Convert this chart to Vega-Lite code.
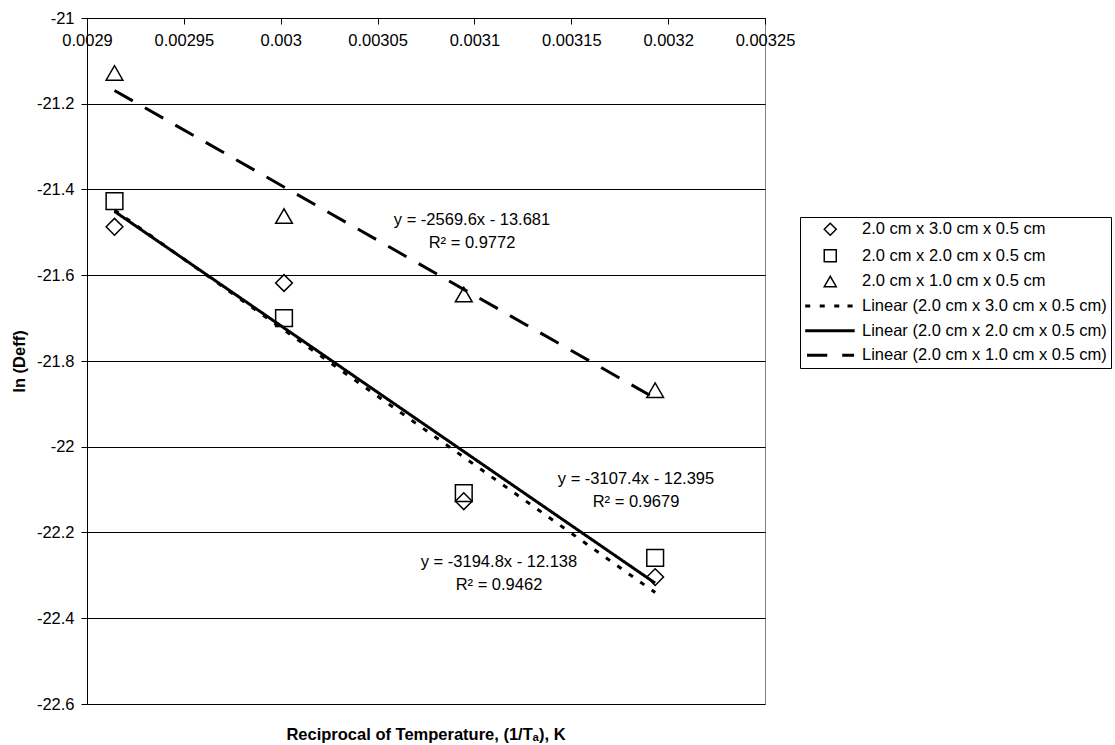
{
  "$schema": "https://vega.github.io/schema/vega-lite/v6.json",
  "width": 678,
  "height": 686,
  "autosize": "none",
  "padding": {"left": 87, "top": 18, "right": 350, "bottom": 41},
  "background": "white",
  "config": {
    "font": "Liberation Sans, Arial, sans-serif",
    "view": {"stroke": "#808080", "strokeWidth": 1}
  },
  "title": {
    "text": "Reciprocal of Temperature, (1/Tₐ), K",
    "orient": "bottom",
    "anchor": "middle",
    "frame": "group",
    "fontSize": 16.5,
    "fontWeight": "bold",
    "color": "black",
    "baseline": "alphabetic",
    "offset": 27
  },
  "datasets": {
    "pts": [
      {"series": "2.0 cm x 2.0 cm x 0.5 cm", "x": 0.0029142, "y": -21.427},
      {"series": "2.0 cm x 2.0 cm x 0.5 cm", "x": 0.0030017, "y": -21.70},
      {"series": "2.0 cm x 2.0 cm x 0.5 cm", "x": 0.0030945, "y": -22.108},
      {"series": "2.0 cm x 2.0 cm x 0.5 cm", "x": 0.0031933, "y": -22.259},
      {"series": "2.0 cm x 1.0 cm x 0.5 cm", "x": 0.0029142, "y": -21.128},
      {"series": "2.0 cm x 1.0 cm x 0.5 cm", "x": 0.0030017, "y": -21.462},
      {"series": "2.0 cm x 1.0 cm x 0.5 cm", "x": 0.0030945, "y": -21.645},
      {"series": "2.0 cm x 1.0 cm x 0.5 cm", "x": 0.0031933, "y": -21.868},
      {"series": "2.0 cm x 3.0 cm x 0.5 cm", "x": 0.0029142, "y": -21.487},
      {"series": "2.0 cm x 3.0 cm x 0.5 cm", "x": 0.0030017, "y": -21.618},
      {"series": "2.0 cm x 3.0 cm x 0.5 cm", "x": 0.0030945, "y": -22.127},
      {"series": "2.0 cm x 3.0 cm x 0.5 cm", "x": 0.0031933, "y": -22.304}
    ],
    "trend": [
      {"series": "Linear (2.0 cm x 3.0 cm x 0.5 cm)", "x": 0.0029142, "y": -21.448},
      {"series": "Linear (2.0 cm x 3.0 cm x 0.5 cm)", "x": 0.0031933, "y": -22.340},
      {"series": "Linear (2.0 cm x 2.0 cm x 0.5 cm)", "x": 0.0029142, "y": -21.451},
      {"series": "Linear (2.0 cm x 2.0 cm x 0.5 cm)", "x": 0.0031933, "y": -22.318},
      {"series": "Linear (2.0 cm x 1.0 cm x 0.5 cm)", "x": 0.0029142, "y": -21.169},
      {"series": "Linear (2.0 cm x 1.0 cm x 0.5 cm)", "x": 0.0031933, "y": -21.887}
    ],
    "ann": [
      {"x": 0.00309875, "y": -21.4828, "label": "y = -2569.6x - 13.681"},
      {"x": 0.00309875, "y": -21.5364, "label": "R² = 0.9772"},
      {"x": 0.00318341, "y": -22.0869, "label": "y = -3107.4x - 12.395"},
      {"x": 0.00318341, "y": -22.1405, "label": "R² = 0.9679"},
      {"x": 0.00311268, "y": -22.2805, "label": "y = -3194.8x - 12.138"},
      {"x": 0.00311268, "y": -22.3341, "label": "R² = 0.9462"}
    ]
  },
  "encoding": {
    "x": {
      "field": "x",
      "type": "quantitative",
      "scale": {"domain": [0.0029, 0.00325], "nice": false, "zero": false},
      "axis": {
        "orient": "top",
        "title": null,
        "values": [0.0029, 0.00295, 0.003, 0.00305, 0.0031, 0.00315, 0.0032, 0.00325],
        "format": "~g",
        "grid": false,
        "domainColor": "black",
        "tickColor": "black",
        "tickSize": -6,
        "labelPadding": -21,
        "labelBaseline": "alphabetic",
        "labelFontSize": 16.5,
        "labelColor": "black",
        "labelFlush": false,
        "labelOverlap": false,
        "labelBound": false
      }
    },
    "y": {
      "field": "y",
      "type": "quantitative",
      "scale": {"domain": [-22.6, -21], "nice": false, "zero": false},
      "axis": {
        "values": [-22.6, -22.4, -22.2, -22, -21.8, -21.6, -21.4, -21.2, -21],
        "format": "~g",
        "labelExpr": "replace(datum.label, '−', '-')",
        "grid": true,
        "gridColor": "black",
        "gridOpacity": 1,
        "gridWidth": 1,
        "domainColor": "black",
        "tickColor": "black",
        "tickSize": 6,
        "labelPadding": 7,
        "labelFontSize": 16.5,
        "labelColor": "black",
        "labelOverlap": false,
        "labelBound": false,
        "title": "ln (Deff)",
        "titleFontSize": 16.5,
        "titleFontWeight": "bold",
        "titleColor": "black",
        "titleAngle": -90,
        "titleAlign": "center",
        "titleBaseline": "alphabetic",
        "titleX": -63,
        "titleY": 343
      }
    }
  },
  "layer": [
    {
      "data": {"name": "pts"},
      "mark": {"type": "point", "filled": false, "color": "black", "strokeWidth": 1.5, "size": 280, "opacity": 1},
      "encoding": {
        "shape": {
          "field": "series",
          "type": "nominal",
          "scale": {
            "domain": [
              "2.0 cm x 3.0 cm x 0.5 cm",
              "2.0 cm x 2.0 cm x 0.5 cm",
              "2.0 cm x 1.0 cm x 0.5 cm",
              "Linear (2.0 cm x 3.0 cm x 0.5 cm)",
              "Linear (2.0 cm x 2.0 cm x 0.5 cm)",
              "Linear (2.0 cm x 1.0 cm x 0.5 cm)"
            ],
            "range": [
              "diamond",
              "square",
              "triangle-up",
              "M-4.05,-0.125H-3.46V0.125H-4.05Z M-1.63,-0.125H-1.04V0.125H-1.63Z M0.79,-0.125H1.38V0.125H0.79Z M3.0,-0.125H3.6V0.125H3.0Z",
              "M-4.05,-0.125H3.95V0.125H-4.05Z",
              "M-3.75,-0.125H-0.62V0.125H-3.75Z M2.12,-0.125H3.85V0.125H2.12Z"
            ]
          },
          "legend": {
            "orient": "none",
            "legendX": 713,
            "legendY": 199,
            "title": null,
            "labelFontSize": 16.5,
            "labelColor": "black",
            "labelLimit": 400,
            "symbolSize": 144,
            "symbolStrokeWidth": 1.5,
            "symbolStrokeColor": "black",
            "symbolOpacity": 1,
            "strokeColor": "black",
            "padding": 4,
            "rowPadding": 7.6,
            "symbolOffset": 18,
            "labelOffset": 23.5
          }
        }
      }
    },
    {
      "data": {"name": "trend"},
      "mark": {"type": "line", "color": "black", "strokeWidth": 3, "strokeCap": "butt"},
      "encoding": {
        "strokeDash": {
          "field": "series",
          "type": "nominal",
          "scale": {
            "domain": [
              "Linear (2.0 cm x 3.0 cm x 0.5 cm)",
              "Linear (2.0 cm x 2.0 cm x 0.5 cm)",
              "Linear (2.0 cm x 1.0 cm x 0.5 cm)"
            ],
            "range": [[5, 9], [1, 0], [21, 14]]
          },
          "legend": null
        }
      }
    },
    {
      "data": {"name": "ann"},
      "mark": {"type": "text", "align": "center", "baseline": "alphabetic", "fontSize": 16.5, "color": "black"},
      "encoding": {
        "text": {"field": "label", "type": "nominal"}
      }
    }
  ]
}
